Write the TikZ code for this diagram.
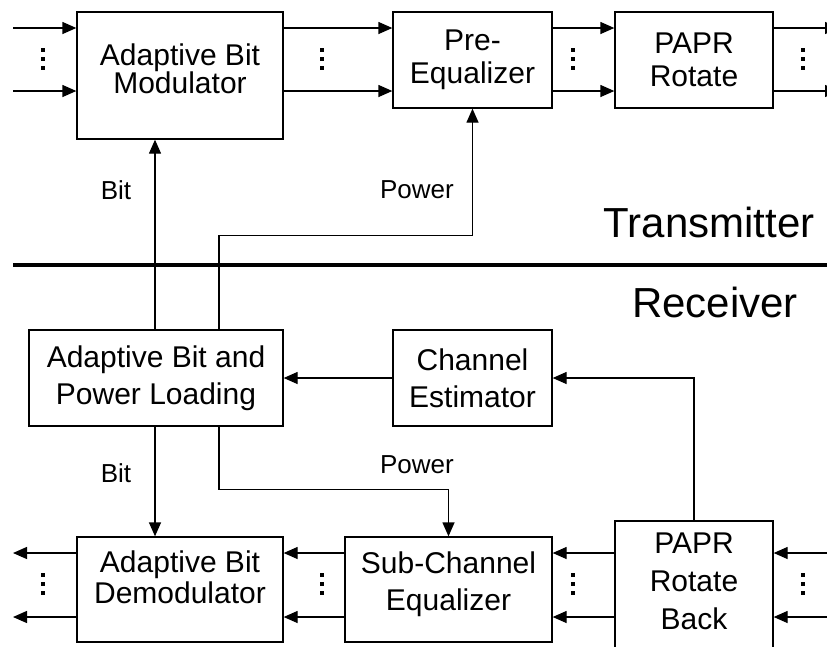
\documentclass[tikz,border=0pt]{standalone}
\usepackage{fontspec}
\setmainfont{Liberation Sans}
\usetikzlibrary{arrows.meta,calc}
% box text: 30pt type with a chosen line spacing
\newcommand\bxfont[1]{\fontsize{30pt}{#1pt}\selectfont}
\begin{document}
\begin{tikzpicture}[x=1pt,y=-1pt,
  blk/.style={draw,line width=1.3pt,inner sep=0pt,align=center},
  conn/.style={line width=1.3pt},
  arr/.style={conn,-{Triangle[length=14pt,width=12pt]}},
  lbl/.style={inner sep=0pt,font=\fontsize{26pt}{26pt}\selectfont},
  side/.style={inner sep=0pt,font=\fontsize{42pt}{42pt}\selectfont}]
\useasboundingbox (0,0) rectangle (827,646);
\clip (0,0) rectangle (827,646);

% reference columns and rows for the parallel signal lines
\coordinate (L) at (13,0);
\coordinate (R) at (839,0);
\coordinate (Rin) at (827,0);
\coordinate (bx) at (155,0);
\coordinate (px) at (219,0);
\coordinate (r1) at (0,28);
\coordinate (r2) at (0,91);
\coordinate (s1) at (0,553);
\coordinate (s2) at (0,617);

% transmitter chain
\node[blk,minimum width=206pt,minimum height=127pt,text depth=14.5pt,font=\bxfont{28}] (mod) at (180,75.5) {Adaptive Bit\\Modulator};
\node[blk,minimum width=159pt,minimum height=96pt,font=\bxfont{33}] (preeq) at (472.5,60) {Pre-\\Equalizer};
\node[blk,minimum width=158pt,minimum height=96pt,font=\bxfont{33}] (papr) at (694,60) {PAPR\\Rotate};

% receiver blocks
\node[blk,minimum width=254pt,minimum height=96pt,font=\bxfont{37}] (abpl) at (156,378) {Adaptive Bit and\\Power Loading};
\node[blk,minimum width=159pt,minimum height=96pt,font=\bxfont{37}] (chest) at (472.5,378) {Channel\\Estimator};
\node[blk,minimum width=206pt,minimum height=105pt,text depth=25.5pt,font=\bxfont{31}] (demod) at (180,589.5) {Adaptive Bit\\Demodulator};
\node[blk,minimum width=207pt,minimum height=105pt,text depth=17.5pt,font=\bxfont{37}] (sceq) at (448.5,589.5) {Sub-Channel\\Equalizer};
\node[blk,minimum width=158pt,minimum height=139pt,text depth=19.5pt,font=\bxfont{38}] (paprb) at (694,590.5) {PAPR\\Rotate\\Back};

% transmitter signal flow
\foreach \r in {r1,r2} {
  \draw[arr] (L |- \r) -- (mod.west |- \r);
  \draw[arr] (mod.east |- \r) -- (preeq.west |- \r);
  \draw[arr] (preeq.east |- \r) -- (papr.west |- \r);
  \draw[arr] (papr.east |- \r) -- (R |- \r);
}

% receiver signal flow
\foreach \r in {s1,s2} {
  \draw[arr] (Rin |- \r) -- (paprb.east |- \r);
  \draw[arr] (paprb.west |- \r) -- (sceq.east |- \r);
  \draw[arr] (sceq.west |- \r) -- (demod.east |- \r);
  \draw[arr] (demod.west |- \r) -- (L |- \r);
}

% ellipses between the parallel lines
\foreach \x in {43,322,573,803} {
  \foreach \y in {50,59,68,575,584,593}
    \fill (\x-1.6,\y-1.6) rectangle ++(3.2,3.2);
}

% feedback and control paths
\draw[arr] (paprb.north) |- (chest.east);
\draw[arr] (chest.west) -- (abpl.east);
\draw[arr] (abpl.north -| bx) -- (mod.south -| bx);
\draw[arr] (abpl.north -| px) |- ($(preeq.south)+(0,127)$) -- (preeq.south);
\draw[arr] (abpl.south -| bx) -- (demod.north -| bx);
\draw[arr] (abpl.south -| px) |- ($(sceq.north)+(0,-47)$) -- (sceq.north);

% path labels
\node[lbl] (bitT) at (116,190) {Bit};
\node[lbl] (powT) at (417,190) {Power};
\node[lbl] (bitR) at (116,473) {Bit};
\node[lbl] (powR) at (417,465) {Power};

% transmitter / receiver boundary
\draw[line width=4pt] (13,265) -- (827,265);
\node[side] (tx) at (709,222) {Transmitter};
\node[side] (rx) at (715,302) {Receiver};
\end{tikzpicture}
\end{document}
